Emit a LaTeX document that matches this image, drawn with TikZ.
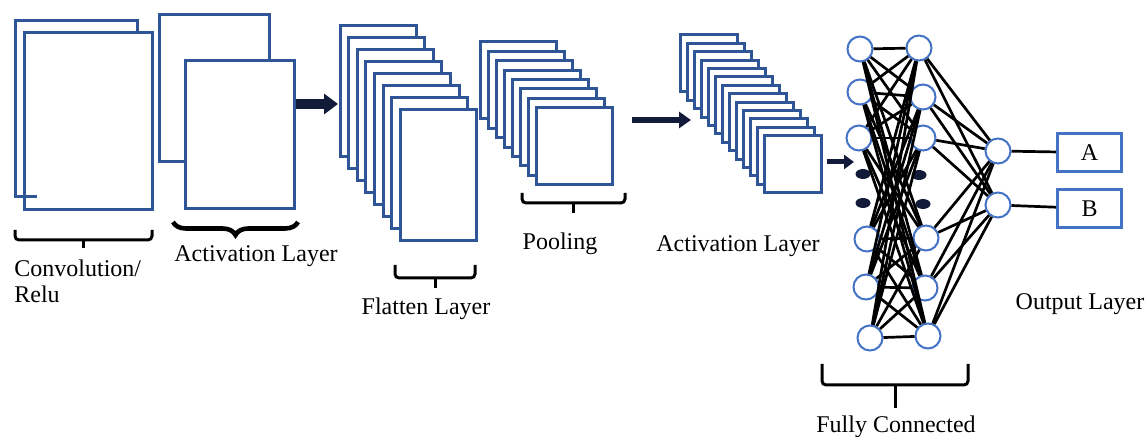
\documentclass[tikz,border=0pt]{standalone}
\usepackage{fontspec}
\setmainfont{Liberation Serif}
\usetikzlibrary{arrows.meta,decorations.pathreplacing}

\definecolor{mapblue}{RGB}{47,85,151}
\definecolor{nodeblue}{RGB}{68,114,196}
\definecolor{arrownavy}{RGB}{18,28,58}

\tikzset{
    fmap/.style={draw=mapblue, fill=white, line width=1.5pt},
    neuron/.style={circle, draw=nodeblue, fill=white, line width=1pt, minimum size=12.5pt, inner sep=0pt},
    outbox/.style={draw=nodeblue, line width=1.5pt, minimum width=32pt, minimum height=19pt, inner sep=0pt, font=\fontsize{12}{13.5}\selectfont},
    bracket/.style={line width=1.5pt, rounded corners=2pt},
    lbl/.style={font=\fontsize{12}{13.5}\selectfont, inner sep=0pt},
    wire/.style={line width=1.35pt},
}

\begin{document}
\begin{tikzpicture}[x=0.5pt, y=-0.5pt]
    \useasboundingbox (0,0) rectangle (1146,437);

    % Convolution / Relu maps
    \draw[fmap] (15,21) rectangle (137,197);
    \draw[fmap] (24,33) rectangle (152,210);
    \draw[fmap] (24,197) -- (37,197);
    \draw[bracket] (15,230) -- (15,240) -- (152,240) -- (152,230);
    \draw[bracket] (83.5,240) -- (83.5,248);
    \node[lbl, anchor=base west] (convlbl) at (14,277) {Convolution/};
    \node[lbl, anchor=base west] (relulbl) at (14,303) {Relu};

    % First activation layer
    \draw[fmap] (159,15) rectangle (269,162);
    \draw[fmap] (185,61) rectangle (294,209);
    \draw[line width=2.3pt, decorate, decoration={brace, amplitude=6.5pt}] (298,222) -- (173,222);
    \node[lbl, anchor=base] (act1lbl) at (256,262) {Activation Layer};

    % Thick arrow into the flatten stack
    \coordinate (a1s) at (296,104);
    \coordinate (a1e) at (338,104);
    \draw[arrownavy, line width=5pt, -{Triangle[width=10pt,length=7pt]}] (a1s) -- (a1e);

    % Flatten layer stack
    \foreach \i in {0,...,7}
    {
        \draw[fmap] ({340+8.6*\i},{26+12*\i}) rectangle ++(76,131);
    }
    \draw[bracket] (395,265) -- (395,278) -- (475,278) -- (475,265);
    \draw[bracket] (435,278) -- (435,288);
    \node[lbl, anchor=base] (flatlbl) at (426,315) {Flatten Layer};

    % Pooling stack
    \foreach \i in {0,...,7}
    {
        \draw[fmap] ({480+8.1*\i},{42+9.4*\i}) rectangle ++(76,77);
    }
    \draw[bracket] (522,193) -- (522,203) -- (625,203) -- (625,193);
    \draw[bracket] (573.5,203) -- (573.5,213);
    \node[lbl, anchor=base] (poollbl) at (560,250) {Pooling};

    % Arrow into the second activation stack
    \coordinate (a2s) at (632,120);
    \coordinate (a2e) at (691,120);
    \draw[arrownavy, line width=3pt, -{Triangle[width=8pt,length=6pt]}] (a2s) -- (a2e);

    % Second activation layer
    \foreach \i in {0,...,12}
    {
        \draw[fmap] ({680+7*\i},{35+8.4*\i}) rectangle ++(57,57);
    }
    \node[lbl, anchor=base] (act2lbl) at (738,252) {Activation Layer};

    % Arrow into the fully connected part
    \coordinate (a3s) at (827,162);
    \coordinate (a3e) at (854,162);
    \draw[arrownavy, line width=2.5pt, -{Triangle[width=7pt,length=5pt]}] (a3s) -- (a3e);

    % Fully connected neurons
    \node[neuron] (c1) at (860,49) {};
    \node[neuron] (c2) at (860,92) {};
    \node[neuron] (c3) at (859,138) {};
    \node[neuron] (c4) at (867,239) {};
    \node[neuron] (c5) at (866,287) {};
    \node[neuron] (c6) at (870,338) {};
    \node[neuron] (d1) at (919,48) {};
    \node[neuron] (d2) at (923,97) {};
    \node[neuron] (d3) at (923,138) {};
    \node[neuron] (d4) at (926,238) {};
    \node[neuron] (d5) at (925,288) {};
    \node[neuron] (d6) at (928,336) {};
    \node[neuron] (o1) at (998,151) {};
    \node[neuron] (o2) at (998,205) {};

    % Ellipsis dots
    \foreach \x/\y in {863/174, 863/203, 919/175, 923/204}
    {
        \fill[arrownavy] (\x,\y) ellipse [x radius=7.5, y radius=5];
    }

    % Connections
    \foreach \a in {1,...,6}
    {
        \foreach \b in {1,...,6}
        {
            \draw[wire] (c\a) -- (d\b);
        }
    }
    \foreach \b in {1,...,6}
    {
        \draw[wire] (d\b) -- (o1);
        \draw[wire] (d\b) -- (o2);
    }

    % Output boxes
    \node[outbox] (A) at (1089.5,152.5) {A};
    \node[outbox] (B) at (1089.5,208.5) {B};
    \draw[wire] (o1) -- (A);
    \draw[wire] (o2) -- (B);
    \node[lbl, anchor=base] (outlbl) at (1080,310) {Output Layer};

    % Fully connected bracket
    \draw[bracket] (822,364) -- (822,385) -- (968,385) -- (968,364);
    \draw[bracket] (895,385) -- (895,408);
    \node[lbl, anchor=base] (fclbl) at (896,433) {Fully Connected};
\end{tikzpicture}
\end{document}
